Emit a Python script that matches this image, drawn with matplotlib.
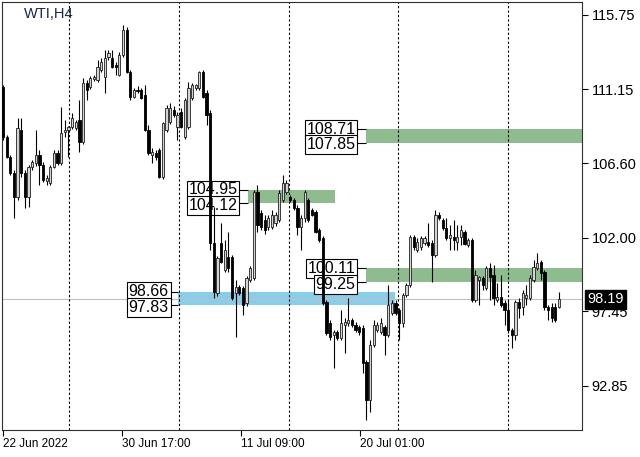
import numpy as np
import matplotlib
matplotlib.use("Agg")
import matplotlib.pyplot as plt
from matplotlib.transforms import blended_transform_factory

# --- data (WTI, H4 candles) ---
symbol = "WTI,H4"

open_ = [111.31, 108.22, 106.99, 106.00, 104.52, 108.65, 106.00, 104.52, 106.37, 106.62,
         107.11, 106.49, 105.50, 105.38, 106.37, 107.23, 106.62, 108.53, 108.65, 108.84,
         108.78, 109.27, 107.91, 111.55, 111.31, 111.80, 111.74, 112.36, 111.92, 113.16,
         113.10, 112.66, 112.05, 113.28, 114.82, 112.23, 110.69, 111.12, 111.12, 110.81,
         108.65, 107.11, 107.23, 107.42, 105.75, 108.65, 109.15, 109.89, 108.84, 109.76,
         108.22, 108.84, 110.63, 111.24, 111.24, 112.23, 110.93, 109.70, 101.68, 98.59,
         101.68, 100.01, 100.81, 100.81, 98.59, 98.96, 98.90, 97.97, 99.39, 99.52,
         104.83, 103.53, 103.10, 102.66, 102.66, 102.91, 103.10, 104.33, 104.83, 104.52,
         104.33, 103.84, 102.66, 103.22, 104.33, 103.71, 103.59, 102.48, 101.98, 98.04,
         96.74, 96.00, 96.18, 95.81, 96.61, 96.74, 96.92, 96.61, 96.49, 96.43,
         94.33, 91.99, 95.38, 96.31, 96.18, 96.49, 96.00, 97.36, 97.97, 97.54,
         96.74, 98.47, 99.08, 102.05, 101.27, 101.43, 101.68, 101.74, 101.68, 100.94,
         103.41, 103.10, 102.60, 101.98, 102.05, 101.74, 102.05, 102.36, 101.55, 101.86,
         98.16, 99.39, 99.52, 98.90, 100.13, 99.70, 98.16, 98.34, 97.97, 97.54,
         96.31, 96.00, 98.04, 97.73, 98.28, 98.28, 99.39, 100.13, 100.50, 99.89,
         97.73, 97.73, 97.73, 97.73]
high = [111.43, 108.34, 107.11, 106.18, 109.39, 109.39, 106.18, 106.49, 106.80, 108.65,
        107.42, 106.68, 105.87, 106.49, 107.42, 107.42, 110.07, 109.27, 108.90, 109.70,
        109.27, 110.50, 111.86, 111.74, 111.99, 112.05, 112.97, 113.10, 113.59, 113.59,
        113.59, 112.85, 113.47, 115.13, 115.01, 112.36, 111.24, 111.37, 111.24, 111.43,
        108.96, 107.54, 107.42, 107.54, 109.15, 110.20, 110.32, 110.13, 109.76, 110.01,
        110.63, 111.61, 111.55, 111.49, 112.29, 112.36, 111.12, 109.89, 103.90, 100.88,
        102.91, 101.86, 102.36, 100.94, 99.39, 99.08, 99.02, 99.64, 100.26, 104.95,
        105.26, 103.71, 103.41, 103.41, 103.71, 103.59, 104.95, 105.87, 105.57, 104.64,
        104.45, 104.02, 103.41, 104.95, 104.45, 103.84, 103.71, 102.60, 102.11, 98.16,
        96.92, 96.31, 96.31, 97.54, 97.05, 98.28, 97.05, 96.80, 96.61, 96.61,
        94.46, 95.69, 96.92, 96.80, 97.05, 96.61, 99.08, 98.16, 98.16, 97.66,
        98.59, 99.21, 102.17, 102.17, 101.98, 102.11, 102.11, 102.91, 101.86, 103.71,
        103.59, 103.22, 103.22, 102.79, 103.10, 102.79, 102.79, 102.48, 101.98, 101.98,
        100.01, 99.64, 99.64, 100.26, 100.44, 100.32, 99.21, 99.70, 98.16, 98.16,
        96.43, 98.16, 98.28, 98.77, 99.08, 99.70, 100.63, 101.06, 100.63, 100.01,
        97.85, 97.97, 97.97, 98.65]
low = [108.03, 106.92, 105.87, 103.22, 104.33, 105.75, 103.84, 103.90, 106.18, 106.43,
       105.26, 105.44, 105.26, 105.26, 106.31, 106.49, 106.49, 108.22, 106.99, 108.71,
       108.65, 107.29, 107.79, 110.50, 111.18, 111.68, 111.61, 112.23, 110.93, 112.97,
       112.48, 112.05, 111.99, 113.16, 112.17, 110.50, 110.63, 110.93, 110.57, 108.59,
       107.11, 106.62, 106.80, 105.69, 105.63, 108.53, 109.02, 109.45, 108.03, 108.78,
       108.10, 108.71, 110.50, 111.12, 111.12, 110.63, 108.96, 101.27, 98.28, 98.41,
       100.44, 99.89, 99.89, 98.16, 95.88, 98.47, 97.23, 97.79, 99.27, 99.39,
       102.36, 102.48, 102.23, 102.48, 102.54, 102.73, 102.97, 104.21, 104.70, 104.21,
       103.71, 102.17, 101.27, 102.97, 102.97, 103.34, 102.29, 101.74, 97.85, 96.00,
       95.69, 93.96, 95.69, 95.69, 94.89, 96.55, 96.49, 96.18, 96.00, 93.65,
       90.75, 91.25, 95.26, 96.18, 96.06, 94.76, 95.88, 97.23, 97.23, 95.69,
       96.49, 98.34, 98.96, 101.27, 101.12, 101.27, 101.55, 101.43, 99.27, 100.81,
       103.10, 102.48, 101.86, 101.27, 101.27, 101.27, 101.55, 101.55, 101.43, 98.04,
       98.04, 97.85, 98.77, 98.77, 98.16, 97.85, 98.04, 97.73, 96.61, 96.12,
       95.20, 95.69, 97.05, 97.23, 97.85, 98.16, 99.27, 100.01, 99.39, 97.54,
       96.92, 96.80, 96.80, 97.66]
close = [108.22, 106.99, 106.00, 104.52, 108.78, 106.00, 104.52, 106.37, 106.68, 107.11,
         106.49, 105.57, 105.69, 106.37, 107.23, 106.62, 108.47, 108.65, 108.84, 109.39,
         109.15, 107.91, 111.55, 111.12, 111.86, 111.92, 112.54, 112.85, 113.10, 113.40,
         112.54, 112.54, 113.28, 114.82, 112.23, 110.69, 111.12, 111.05, 110.63, 108.65,
         107.23, 107.29, 106.99, 105.75, 109.08, 110.01, 110.01, 109.58, 109.58, 108.84,
         110.50, 111.24, 111.43, 111.43, 112.23, 110.69, 109.58, 101.68, 98.65, 100.75,
         100.50, 101.27, 100.13, 98.28, 98.96, 98.59, 97.85, 99.52, 100.13, 104.83,
         102.79, 102.66, 102.48, 103.22, 103.41, 103.41, 104.76, 105.38, 105.38, 104.33,
         103.84, 102.66, 103.22, 104.83, 103.10, 103.41, 102.36, 101.86, 97.97, 96.12,
         95.88, 96.18, 95.81, 96.74, 96.80, 96.92, 96.61, 96.31, 96.18, 94.27,
         91.99, 95.38, 96.61, 96.61, 96.74, 96.00, 97.85, 97.97, 97.36, 96.74,
         98.47, 99.08, 102.05, 101.43, 101.74, 101.98, 101.98, 101.55, 100.94, 103.41,
         103.22, 102.60, 101.98, 102.17, 101.86, 102.05, 102.48, 101.60, 101.86, 98.16,
         99.70, 99.58, 99.08, 100.13, 99.58, 98.28, 98.34, 97.85, 97.54, 96.31,
         96.00, 98.04, 97.66, 98.59, 98.47, 99.52, 100.19, 100.44, 99.83, 97.73,
         97.54, 97.05, 96.92, 98.19]

last_price = 98.19

# supply / demand boxes: top, bottom, colour
zone_top = [108.71, 104.95, 100.11, 98.66]
zone_bottom = [107.85, 104.12, 99.25, 97.83]
zone_colors = ["#8fbc8f", "#8fbc8f", "#8fbc8f", "#87ceeb"]
zone_start = [99.9, 67.4, 99.9, 48.2]      # bar index where each box begins
zone_end = [None, 91.4, None, 107.9]        # None -> runs to the right edge
label_right = [97.4, 64.9, 97.4, 46.0]      # right edge of the price tags

separators = [18.2, 48.4, 78.7, 108.7, 139.0]
x_tick_pos = [0, 32.7, 65.5, 98.2]
x_tick_labels = ["22 Jun 2022", "30 Jun 17:00", "11 Jul 09:00", "20 Jul 01:00"]
y_ticks = [115.75, 111.15, 106.60, 102.00, 97.45, 92.85]

plt.rcParams["font.family"] = ["Liberation Sans", "DejaVu Sans"]

o = np.array(open_)
h = np.array(high)
l = np.array(low)
c = np.array(close)
idx = np.arange(len(c))

fig = plt.figure(figsize=(6.4, 4.57), dpi=100)
ax = fig.add_axes([2 / 640, 27 / 457, 580 / 640, 428 / 457])
x_right = (582 - 3) / 3.634
ax.set_xlim(-0.3, x_right)
ax.set_ylim(90.13, 116.55)

# zones (background)
for top, bot, col, x0, x1 in zip(zone_top, zone_bottom, zone_colors, zone_start, zone_end):
    if x1 is None:
        x1 = x_right
    ax.fill_between([x0, x1], [bot, bot], [top, top], color=col, lw=0, zorder=1)

ax.axhline(last_price, color="#c0c0c0", lw=0.8, zorder=1.5)
for s in separators:
    ax.axvline(s, color="black", lw=0.8, ls=(0, (2, 2)), zorder=1.6)

# price tags beside each zone (candles are drawn over them)
box = dict(boxstyle="square,pad=0.12", fc="white", ec="black", lw=0.8)
for top, bot, x0, xr in zip(zone_top, zone_bottom, zone_start, label_right):
    ax.hlines([top, bot], xr, x0, color="black", lw=0.8, zorder=2)
    ax.text(xr - 0.4, top, f"{top:.2f}", ha="right", va="center",
            fontsize=11.5, bbox=box, zorder=2.2)
    ax.text(xr - 0.4, bot - 0.12, f"{bot:.2f}", ha="right", va="center",
            fontsize=11.5, bbox=box, zorder=2.3)

# candles
up = c >= o
ax.vlines(idx, l, h, color="black", lw=0.8, zorder=3)
body = np.maximum(np.abs(c - o), 0.04)
ax.bar(idx[up], body[up], bottom=np.minimum(o, c)[up], width=0.62,
       color="#d4d4d4", edgecolor="#202020", lw=0.6, zorder=4)
ax.bar(idx[~up], body[~up], bottom=np.minimum(o, c)[~up], width=0.62,
       color="black", edgecolor="black", lw=0.6, zorder=4)

ax.text(0.038, 0.972, symbol, transform=ax.transAxes, ha="left", va="center",
        fontsize=10.5, color="#1a2550")

# axes styling
ax.yaxis.tick_right()
ax.set_yticks(y_ticks)
ax.set_yticklabels([f"{v:.2f}" for v in y_ticks])
ax.set_xticks(x_tick_pos)
ax.set_xticklabels(x_tick_labels)
for lbl in ax.get_xticklabels():
    lbl.set_horizontalalignment("left")
ax.tick_params(axis="y", length=4, width=0.8, pad=3, labelsize=10.5)
ax.tick_params(axis="x", length=4, width=0.8, pad=2, labelsize=8.5)
for sp in ax.spines.values():
    sp.set_color("#303030")
    sp.set_linewidth(0.8)

# current price tag
trans = blended_transform_factory(ax.transAxes, ax.transData)
ax.text(1.0 + 5 / 580, last_price, f"{last_price:.2f}", transform=trans,
        ha="left", va="center", fontsize=10.5, color="white", clip_on=False,
        bbox=dict(boxstyle="square,pad=0.15", fc="black", ec="black"), zorder=10)

fig.savefig("out.png", dpi=100)
